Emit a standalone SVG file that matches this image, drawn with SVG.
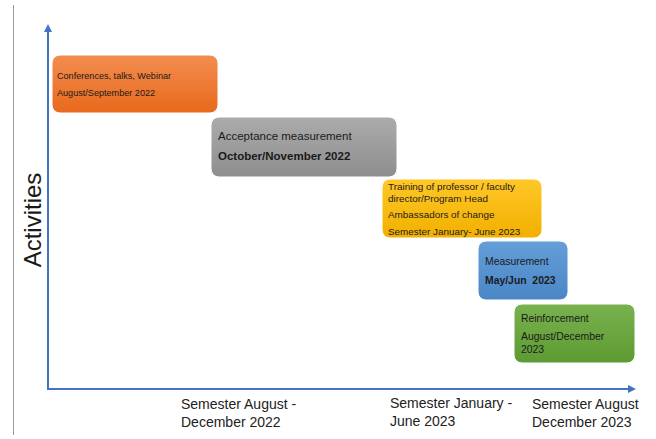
<svg xmlns="http://www.w3.org/2000/svg" width="656" height="439" viewBox="0 0 656 439">
<style>
text{font-family:"Liberation Sans",Arial,sans-serif;fill:#1a1a1a}
.s{font-size:9.1px}
.y{font-size:9.9px}
.t{font-size:10.4px}
.m{font-size:11.5px}
.b{font-weight:bold}
.ax{font-size:14px;fill:#222}
.box{stroke:#ffffff;stroke-width:1}
</style>
<defs>
<linearGradient id="gO" x1="0" y1="0" x2="0" y2="1"><stop offset="0" stop-color="#f38d50"/><stop offset="1" stop-color="#e8691c"/></linearGradient>
<linearGradient id="gG" x1="0" y1="0" x2="0" y2="1"><stop offset="0" stop-color="#ababab"/><stop offset="1" stop-color="#8e8e8e"/></linearGradient>
<linearGradient id="gY" x1="0" y1="0" x2="0" y2="1"><stop offset="0" stop-color="#ffc727"/><stop offset="1" stop-color="#f2b000"/></linearGradient>
<linearGradient id="gB" x1="0" y1="0" x2="0" y2="1"><stop offset="0" stop-color="#649fd9"/><stop offset="1" stop-color="#4a86c6"/></linearGradient>
<linearGradient id="gGr" x1="0" y1="0" x2="0" y2="1"><stop offset="0" stop-color="#78b24e"/><stop offset="1" stop-color="#5e9a34"/></linearGradient>
<marker id="ar" markerWidth="6" markerHeight="6" refX="3" refY="3" orient="auto"><path d="M0,1 L4,3 L0,5 Z" fill="#4472c4"/></marker>
</defs>
<line x1="13.5" y1="5" x2="13.5" y2="435" stroke="#9a9a9a" stroke-width="1"/>
<g id="axes">
<line x1="48" y1="389" x2="48" y2="26" stroke="#4472c4" stroke-width="2" marker-end="url(#ar)"/>
<line x1="47" y1="389" x2="634" y2="389" stroke="#4472c4" stroke-width="2" marker-end="url(#ar)"/>
</g>
<text x="35" y="220" transform="rotate(-90 35 220)" text-anchor="middle" dominant-baseline="middle" style="font-size:24px">Activities</text>
<g id="n1">
<rect class="box" x="52" y="55" width="166" height="58" rx="8" fill="url(#gO)"/>
<text class="s" x="57" y="79">Conferences, talks, Webinar</text>
<text class="s" x="57" y="96">August/September 2022</text>
</g>
<g id="n2">
<rect class="box" x="211" y="117" width="186" height="60" rx="8" fill="url(#gG)"/>
<text class="m" x="218" y="140">Acceptance measurement</text>
<text class="m b" x="218" y="160">October/November 2022</text>
</g>
<g id="n3">
<rect class="box" x="382" y="179" width="160" height="59" rx="8" fill="url(#gY)"/>
<text class="y" x="388" y="190">Training of professor / faculty</text>
<text class="y" x="388" y="202">director/Program Head</text>
<text class="y" x="388" y="218">Ambassadors of change</text>
<text class="y" x="388" y="235">Semester January- June 2023</text>
</g>
<g id="n4">
<rect class="box" x="478" y="241" width="90" height="59" rx="8" fill="url(#gB)"/>
<text class="t" x="485" y="265">Measurement</text>
<text class="t b" x="485" y="284" xml:space="preserve">May/Jun  2023</text>
</g>
<g id="n5">
<rect class="box" x="514" y="304" width="121" height="59" rx="8" fill="url(#gGr)"/>
<text class="t" x="521" y="322">Reinforcement</text>
<text class="t" x="521" y="340">August/December</text>
<text class="t" x="521" y="353">2023</text>
</g>
<g id="labels">
<text class="ax" x="181" y="409">Semester August -</text>
<text class="ax" x="181" y="427">December 2022</text>
<text class="ax" x="390" y="408">Semester January -</text>
<text class="ax" x="390" y="426">June 2023</text>
<text class="ax" x="532" y="409">Semester August</text>
<text class="ax" x="532" y="427">December 2023</text>
</g>
</svg>
